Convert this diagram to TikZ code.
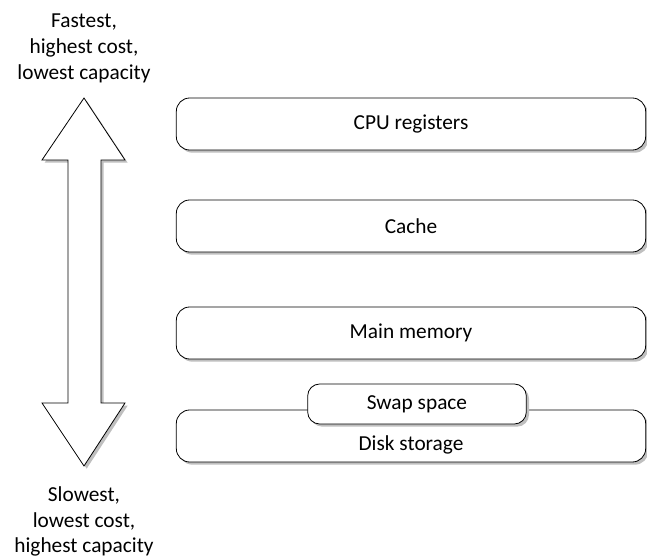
\documentclass[tikz,border=0pt]{standalone}
\usepackage{fontspec}
\setmainfont{Carlito}
\usetikzlibrary{shadows,positioning}

\tikzset{
	nivel/.style={draw, line width=0.6pt, fill=white, rounded corners=10pt, minimum width=352pt, minimum height=39pt,
		drop shadow={shadow xshift=2pt, shadow yshift=-2pt, fill=black!25, opacity=1}},
	rotulo/.style={align=center, font=\fontsize{16}{19.3}\selectfont},
}

\begin{document}
\begin{tikzpicture}[x=0.75pt,y=-0.75pt]
	\useasboundingbox (0,0) rectangle (647,557);
	
	% Flecha doble (velocidad / coste / capacidad)
	\draw[line width=0.6pt, fill=white, drop shadow={shadow xshift=2pt, shadow yshift=-2pt, fill=black!25, opacity=1}]
	(84,98) -- (125,160) -- (101,160) -- (101,403) -- (125,403) -- (84,466)
	-- (42,403) -- (68,403) -- (68,160) -- (42,160) -- cycle;
	\coordinate (arriba) at (84,98);
	\coordinate (abajo) at (84,466);
	
	\node[rotulo, above=8pt of arriba] (rapido) {Fastest,\\highest cost,\\lowest capacity};
	\node[rotulo, below=12pt of abajo] (lento) {Slowest,\\lowest cost,\\highest capacity};
	
	% Niveles de la jerarquía
	\node[nivel, rotulo] (registros) at (411,124) {CPU registers};
	\node[nivel, rotulo] (cache) at (411,226) {Cache};
	\node[nivel, rotulo] (principal) at (411,333) {Main memory};
	\node[nivel, rotulo, text height=25pt, text depth=3pt] (disco) at (411,436) {Disk storage};
	\node[nivel, rotulo, minimum width=164pt, minimum height=30pt, rounded corners=9pt] (swap) at (417,404) {Swap space};
\end{tikzpicture}
\end{document}
